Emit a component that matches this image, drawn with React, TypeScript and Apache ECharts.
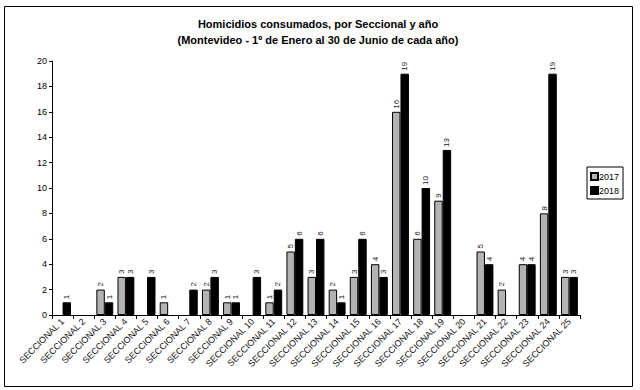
import React, { useEffect, useRef } from "react";
import * as echarts from "echarts";

const categories = Array.from({ length: 25 }, (_, i) => `SECCIONAL ${i + 1}`);
const values2017: (number | null)[] = [null, null, 2, 3, null, 1, null, 2, 1, null, 1, 5, 3, 2, 3, 4, 16, 6, 9, null, 5, 2, 4, 8, 3];
const values2018: (number | null)[] = [1, null, 1, 3, 3, null, 2, 3, 1, 3, 2, 6, 6, 1, 6, 3, 19, 10, 13, null, 4, null, 4, 19, 3];
const yTicks = { min: 0, max: 20, interval: 2 };
const titleLines = [
  "Homicidios consumados, por Seccional y año",
  "(Montevideo - 1º de Enero al 30 de Junio de cada año)",
];

const FONT = "Liberation Sans, Arial, sans-serif";

export default function App() {
  const ref = useRef<HTMLDivElement>(null);
  useEffect(() => {
    if (!ref.current) return;
    const chart = echarts.init(ref.current, null, { renderer: "svg" });
    const label = {
      show: true,
      position: "top" as const,
      rotate: 90,
      align: "left" as const,
      verticalAlign: "middle" as const,
      distance: 3,
      fontSize: 8,
      color: "#222",
      fontFamily: FONT,
    };
    const titleStyle = { fontSize: 11, fontWeight: "bold" as const, color: "#000", fontFamily: FONT };
    chart.setOption({
      animation: false,
      backgroundColor: "#fff",
      textStyle: { fontFamily: FONT },
      title: [
        { text: titleLines[0], left: 318, textAlign: "center", top: 18, padding: 0, textStyle: titleStyle },
        { text: titleLines[1], left: 318, textAlign: "center", top: 34, padding: 0, textStyle: titleStyle },
      ],
      legend: {
        orient: "vertical",
        left: 587,
        top: 167,
        borderColor: "#000",
        borderWidth: 1,
        padding: [5, 4, 4, 3],
        itemWidth: 7,
        itemHeight: 7,
        itemGap: 5,
        icon: "rect",
        textStyle: { fontSize: 9, color: "#000", fontFamily: FONT, padding: [0, 0, 0, -4] },
        data: ["2017", "2018"],
      },
      graphic: [
        {
          type: "rect",
          shape: { x: 4.5, y: 6.5, width: 628, height: 380 },
          style: { fill: "none", stroke: "#000", lineWidth: 1 },
          silent: true,
        },
      ],
      grid: { left: 52, right: 60, top: 61, bottom: 75 },
      xAxis: {
        type: "category",
        data: categories,
        axisLine: { lineStyle: { color: "#000", width: 1 } },
        axisTick: { show: true, interval: 0, length: 4, lineStyle: { color: "#000" } },
        axisLabel: { interval: 0, rotate: 45, fontSize: 9, color: "#111", fontFamily: FONT, margin: 5 },
      },
      yAxis: {
        type: "value",
        min: yTicks.min,
        max: yTicks.max,
        interval: yTicks.interval,
        splitLine: { show: false },
        axisLine: { show: true, lineStyle: { color: "#000", width: 1 } },
        axisTick: { show: true, length: 3, lineStyle: { color: "#000" } },
        axisLabel: { fontSize: 9, color: "#000", fontFamily: FONT, margin: 5 },
      },
      series: [
        {
          name: "2017",
          type: "bar",
          data: values2017,
          barWidth: "40%",
          barGap: "0%",
          itemStyle: { color: "#b3b3b3", borderColor: "#000", borderWidth: 1 },
          label,
        },
        {
          name: "2018",
          type: "bar",
          data: values2018,
          barWidth: "40%",
          barGap: "0%",
          itemStyle: { color: "#000", borderColor: "#000", borderWidth: 1 },
          label,
        },
      ],
    });
    return () => chart.dispose();
  }, []);
  return <div ref={ref} style={{ position: "fixed", left: 0, top: 0, width: 640, height: 390 }} />;
}
